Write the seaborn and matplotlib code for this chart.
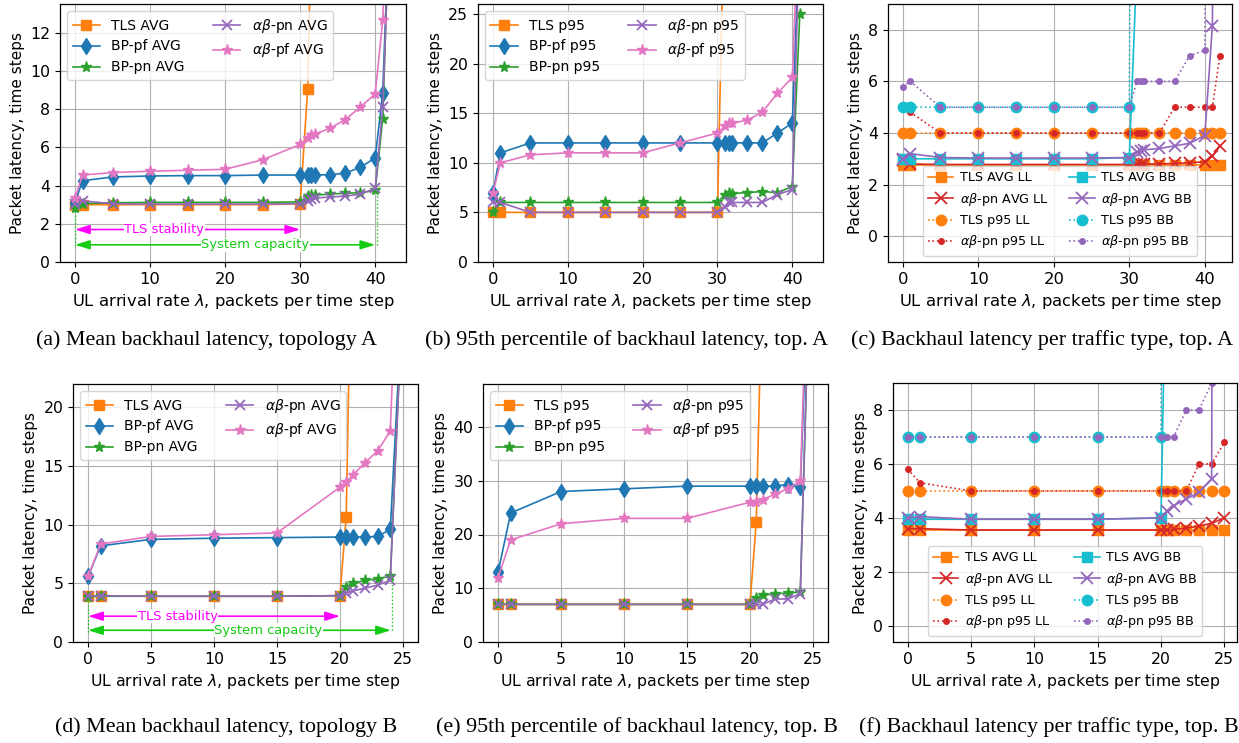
import matplotlib
matplotlib.use("Agg")
import matplotlib.pyplot as plt
import seaborn as sns

# ---------------- data: topology A ----------------
xA = [0, 1, 5, 10, 15, 20, 25, 30, 31, 31.5, 32, 34, 36, 38, 40, 41, 42]
xA41 = [0, 1, 5, 10, 15, 20, 25, 30, 31, 31.5, 32, 34, 36, 38, 40, 41]
xA_tls = [0, 1, 5, 10, 15, 20, 25, 30, 31, 31.5, 32]
xA_tls31 = [0, 1, 5, 10, 15, 20, 25, 30, 31]

tls_avg_A = [3.0, 3.0, 3.0, 3.0, 3.0, 3.0, 3.0, 3.05, 9.05, 18, 35]
bppf_avg_A = [3.1, 4.25, 4.45, 4.5, 4.52, 4.52, 4.55, 4.55, 4.55, 4.55, 4.55, 4.57, 4.65, 4.95, 5.45, 8.85, 19.5]
bppn_avg_A = [2.85, 3.05, 3.1, 3.12, 3.12, 3.12, 3.12, 3.15, 3.45, 3.5, 3.5, 3.55, 3.6, 3.62, 3.75, 7.5, 19.5]
abpn_avg_A = [3.05, 3.2, 3.05, 3.03, 3.03, 3.03, 3.03, 3.05, 3.2, 3.3, 3.35, 3.4, 3.45, 3.55, 3.85, 8.1, 19]
abpf_avg_A = [3.35, 4.55, 4.68, 4.75, 4.8, 4.85, 5.35, 6.15, 6.5, 6.65, 6.7, 7.0, 7.45, 8.1, 8.8, 12.65, 22]

tls_p95_A = [5, 5, 5, 5, 5, 5, 5, 5, 40]
bppf_p95_A = [7, 11, 12, 12, 12, 12, 12, 12, 12, 12, 12, 12, 12, 13, 14, 34]
bppn_p95_A = [5, 6, 6, 6, 6, 6, 6, 6, 6.8, 7, 6.9, 7, 7.1, 7, 7.6, 25]
abpn_p95_A = [6, 6, 5, 5, 5, 5, 5, 5, 5.5, 6, 6, 6, 6, 6.8, 7.3, 34]
abpf_p95_A = [7, 10, 10.8, 11, 11, 11, 12, 13, 13.7, 14, 14, 14.3, 15.1, 17, 18.6, 38]

tls_avg_ll_A = [2.75, 2.75, 2.75, 2.75, 2.75, 2.75, 2.75, 2.75, 2.75, 2.75, 2.75, 2.75, 2.75, 2.75, 2.75, 2.75, 2.75]
abpn_avg_ll_A = [2.95, 2.8, 2.78, 2.78, 2.78, 2.78, 2.78, 2.78, 2.8, 2.8, 2.8, 2.8, 2.82, 2.85, 2.88, 3.1, 3.5]
tls_p95_ll_A = [4, 4, 4, 4, 4, 4, 4, 4, 4, 4, 4, 4, 4, 4, 4, 4, 4]
abpn_p95_ll_A = [5, 4.8, 4, 4, 4, 4, 4, 4, 4, 4, 4, 4, 5, 5, 5, 5, 7]
tls_avg_bb_A = [3.0, 3.0, 3.0, 3.0, 3.0, 3.0, 3.0, 3.05, 10.5]
abpn_avg_bb_A = [3.0, 3.2, 3.05, 3.03, 3.03, 3.03, 3.03, 3.05, 3.25, 3.3, 3.35, 3.4, 3.5, 3.6, 3.9, 8.15, 40]
tls_p95_bb_A = [5, 5, 5, 5, 5, 5, 5, 5, 60]
abpn_p95_bb_A = [5.8, 6, 5, 5, 5, 5, 5, 5, 6, 6, 6, 6, 6, 7, 7.2, 60]

# ---------------- data: topology B ----------------
xB = [0, 1, 5, 10, 15, 20, 20.5, 21, 22, 23, 24, 25]
xB_tls = [0, 1, 5, 10, 15, 20, 20.5, 21]
xB_tls205 = [0, 1, 5, 10, 15, 20, 20.5]

tls_avg_B = [3.9, 3.95, 3.9, 3.9, 3.9, 3.95, 10.7, 40]
bppf_avg_B = [5.6, 8.2, 8.75, 8.85, 8.9, 8.95, 8.95, 8.95, 8.95, 9.0, 9.6, 30]
bppn_avg_B = [3.85, 3.9, 3.9, 3.9, 3.9, 3.95, 4.7, 5.0, 5.25, 5.4, 5.6, 30]
abpn_avg_B = [3.9, 3.95, 3.9, 3.9, 3.9, 3.95, 4.15, 4.35, 4.6, 4.85, 5.25, 30]
abpf_avg_B = [5.6, 8.35, 9.0, 9.15, 9.3, 13.2, 13.65, 14.2, 15.3, 16.3, 18.0, 45]

tls_p95_B = [7, 7, 7, 7, 7, 7, 22.3, 70]
bppf_p95_B = [13, 24, 28, 28.5, 29, 29, 29, 29, 29, 29.3, 28.8, 90]
bppn_p95_B = [7, 7, 7, 7, 7, 7, 8.2, 8.7, 9, 9.1, 9.3, 90]
abpn_p95_B = [7, 7, 7, 7, 7, 7, 7, 7, 8, 8, 9, 90]
abpf_p95_B = [12, 19, 22, 23, 23, 26, 26, 26.5, 27.5, 28.5, 30, 100]

tls_avg_ll_B = [3.55, 3.55, 3.55, 3.55, 3.55, 3.55, 3.55, 3.55, 3.55, 3.55, 3.55, 3.55]
abpn_avg_ll_B = [3.6, 3.6, 3.55, 3.55, 3.55, 3.55, 3.55, 3.58, 3.62, 3.7, 3.8, 4.0]
tls_p95_ll_B = [5, 5, 5, 5, 5, 5, 5, 5, 5, 5, 5, 5]
abpn_p95_ll_B = [5.8, 5.3, 5, 5, 5, 5, 5, 5, 5, 6, 6, 6.8]
tls_avg_bb_B = [3.95, 3.95, 3.95, 3.95, 3.95, 4.0, 16.5]
abpn_avg_bb_B = [4.0, 4.05, 3.95, 3.95, 3.95, 4.0, 4.25, 4.45, 4.7, 4.95, 5.45, 200]
tls_p95_bb_B = [7, 7, 7, 7, 7, 7, 100]
abpn_p95_bb_B = [7, 7, 7, 7, 7, 7, 7, 7, 8, 8, 9, 60]

captions = [
    "(a) Mean backhaul latency, topology A",
    "(b) 95th percentile of backhaul latency, top. A",
    "(c) Backhaul latency per traffic type, top. A",
    "(d) Mean backhaul latency, topology B",
    "(e) 95th percentile of backhaul latency, top. B",
    "(f) Backhaul latency per traffic type, top. B",
]
XLABEL = r"UL arrival rate $\lambda$, packets per time step"
YLABEL = "Packet latency, time steps"

# ---------------- style ----------------
plt.rcParams["font.family"] = ["DejaVu Sans"]
plt.rcParams["font.size"] = 11
plt.rcParams["axes.linewidth"] = 0.9

C_TLS, C_BPPF, C_BPPN, C_RED, C_ABPN, C_ABPF, C_CYAN = (
    "#ff7f0e", "#1f77b4", "#2ca02c", "#d62728", "#9467bd", "#e377c2", "#17becf")
GREEN_A = "#14cc14"
MAG = "#ff00ff"

W, H = 1239, 743
fig = plt.figure(figsize=(W / 100, H / 100), dpi=100)


def axes_px(x0, x1, y0, y1):
    return fig.add_axes([x0 / W, 1 - y1 / H, (x1 - x0) / W, (y1 - y0) / H])


def draw(ax, x, y, color, marker, label, ls="-", ms=7.0, mew=1.0):
    sns.lineplot(x=x, y=y, ax=ax, color=color, marker=marker, markersize=ms,
                 markeredgecolor=color, markeredgewidth=mew, linestyle=ls,
                 linewidth=1.2, label=label, sort=False, estimator=None)


def finish(ax, xlim, ylim, xticks, yticks, xfs):
    ax.set_xlim(*xlim)
    ax.set_ylim(*ylim)
    ax.set_xticks(xticks)
    ax.set_yticks(yticks)
    ax.grid(True, color="#b0b0b0", linewidth=0.8)
    ax.set_axisbelow(True)
    ax.set_xlabel(XLABEL, fontsize=xfs)
    ax.set_ylabel(YLABEL, fontsize=11)
    ax.tick_params(axis="x", labelsize=xfs)
    ax.tick_params(axis="y", labelsize=11.3)


def algo_panel(ax, xt, xo, ys, kind):
    tls, bppf, bppn, abpn, abpf = ys
    draw(ax, xt, tls, C_TLS, "s", f"TLS {kind}", ms=7.5)
    draw(ax, xo, bppf, C_BPPF, "d", f"BP-pf {kind}", ms=8.3)
    draw(ax, xo, bppn, C_BPPN, "*", f"BP-pn {kind}", ms=8)
    draw(ax, xo, abpn, C_ABPN, "x", rf"$\alpha\beta$-pn {kind}", ms=7.5, mew=1.3)
    draw(ax, xo, abpf, C_ABPF, "*", rf"$\alpha\beta$-pf {kind}", ms=8)
    ax.legend(loc="upper left", ncol=2, fontsize=10)


def type_panel(ax, x, xt, ys):
    avg_ll, ab_avg_ll, p95_ll, ab_p95_ll, avg_bb, ab_avg_bb, p95_bb, ab_p95_bb = ys
    draw(ax, x, avg_ll, C_TLS, "s", "TLS AVG LL", ms=7.5)
    draw(ax, x[:len(ab_avg_ll)], ab_avg_ll, C_RED, "x", r"$\alpha\beta$-pn AVG LL", ms=8, mew=1.3)
    draw(ax, x, p95_ll, C_TLS, "o", "TLS p95 LL", ls=":", ms=7.5)
    draw(ax, x[:len(ab_p95_ll)], ab_p95_ll, C_RED, ".", r"$\alpha\beta$-pn p95 LL", ls=":", ms=8)
    draw(ax, xt, avg_bb, C_CYAN, "s", "TLS AVG BB", ms=7.5)
    draw(ax, x[:len(ab_avg_bb)], ab_avg_bb, C_ABPN, "x", r"$\alpha\beta$-pn AVG BB", ms=8, mew=1.3)
    draw(ax, xt, p95_bb, C_CYAN, "o", "TLS p95 BB", ls=":", ms=7.5)
    draw(ax, x[:len(ab_p95_bb)], ab_p95_bb, C_ABPN, ".", r"$\alpha\beta$-pn p95 BB", ls=":", ms=8)
    ax.legend(loc="lower center", ncol=2, fontsize=9.2, handletextpad=0.5, columnspacing=1.6)


def span_arrows(ax, stab_end, cap_end, y_stab, y_cap, xt_stab, xt_cap, vx0, vx1, vtop0, vtop1):
    ax.plot([vx0, vx0], [y_cap - 0.1 * (y_stab - y_cap), vtop0], ":", color=GREEN_A, lw=1.0)
    ax.plot([vx1, vx1], [y_cap, vtop1], ":", color=GREEN_A, lw=1.0)
    style = "<|-|>,head_length=0.8,head_width=0.25"
    ax.annotate("", xy=(stab_end, y_stab), xytext=(0, y_stab),
                arrowprops=dict(arrowstyle=style, color=MAG, lw=1.2, shrinkA=0, shrinkB=0))
    ax.annotate("", xy=(cap_end, y_cap), xytext=(0, y_cap),
                arrowprops=dict(arrowstyle=style, color=GREEN_A, lw=1.2, shrinkA=0, shrinkB=0))
    ax.text(xt_stab, y_stab, "TLS stability", color=MAG, fontsize=9.4, ha="center", va="center",
            bbox=dict(facecolor="white", edgecolor="none", pad=0.3))
    ax.text(xt_cap, y_cap, "System capacity", color=GREEN_A, fontsize=9.4, ha="center", va="center",
            bbox=dict(facecolor="white", edgecolor="none", pad=0.3))


ticksA = [0, 10, 20, 30, 40]
ticksB = [0, 5, 10, 15, 20, 25]

# (a)
ax = axes_px(60, 406, 4, 262)
algo_panel(ax, xA_tls, xA, [tls_avg_A, bppf_avg_A, bppn_avg_A, abpn_avg_A, abpf_avg_A], "AVG")
span_arrows(ax, 30, 40, 1.7, 0.9, 11.9, 24.0, 0, 40.3, 2.85, 3.75)
finish(ax, (-2.0, 44.1), (0, 13.5), ticksA, [0, 2, 4, 6, 8, 10, 12], 11.8)

# (b)
ax = axes_px(478, 823, 4, 262)
algo_panel(ax, xA_tls31, xA41, [tls_p95_A, bppf_p95_A, bppn_p95_A, abpn_p95_A, abpf_p95_A], "p95")
finish(ax, (-2.0, 44.1), (0, 26), ticksA, [0, 5, 10, 15, 20, 25], 11.8)

# (c)
ax = axes_px(888, 1232, 4, 262)
type_panel(ax, xA, xA_tls31, [tls_avg_ll_A, abpn_avg_ll_A, tls_p95_ll_A, abpn_p95_ll_A,
                              tls_avg_bb_A, abpn_avg_bb_A, tls_p95_bb_A, abpn_p95_bb_A])
finish(ax, (-1.95, 43.6), (-1, 9), ticksA, [0, 2, 4, 6, 8], 11.8)

# (d)
ax = axes_px(73, 418, 384, 642)
algo_panel(ax, xB_tls, xB, [tls_avg_B, bppf_avg_B, bppn_avg_B, abpn_avg_B, abpf_avg_B], "AVG")
span_arrows(ax, 20, 24.05, 2.2, 1.0, 7.1, 14.3, 0, 24.1, 3.85, 5.6)
finish(ax, (-1.2, 26.2), (0, 22), ticksB, [0, 5, 10, 15, 20], 11.3)

# (e)
ax = axes_px(483, 828, 384, 642)
algo_panel(ax, xB_tls, xB, [tls_p95_B, bppf_p95_B, bppn_p95_B, abpn_p95_B, abpf_p95_B], "p95")
finish(ax, (-1.2, 26.2), (0, 48), ticksB, [0, 10, 20, 30, 40], 11.3)

# (f)
ax = axes_px(893, 1237, 383, 642)
type_panel(ax, xB, xB_tls205, [tls_avg_ll_B, abpn_avg_ll_B, tls_p95_ll_B, abpn_p95_ll_B,
                               tls_avg_bb_B, abpn_avg_bb_B, tls_p95_bb_B, abpn_p95_bb_B])
finish(ax, (-1.15, 26.0), (-0.6, 9), ticksB, [0, 2, 4, 6, 8], 11.3)

# captions
cap_pos = [(206, 340), (627, 340), (1042, 340), (226, 727), (637, 727), (1049, 727)]
for txt, (cx, cy) in zip(captions, cap_pos):
    fig.text(cx / W, 1 - cy / H, txt, ha="center", va="center",
             fontsize=15.8, family=["Liberation Serif", "DejaVu Serif"])

fig.savefig("out.png", dpi=100)
